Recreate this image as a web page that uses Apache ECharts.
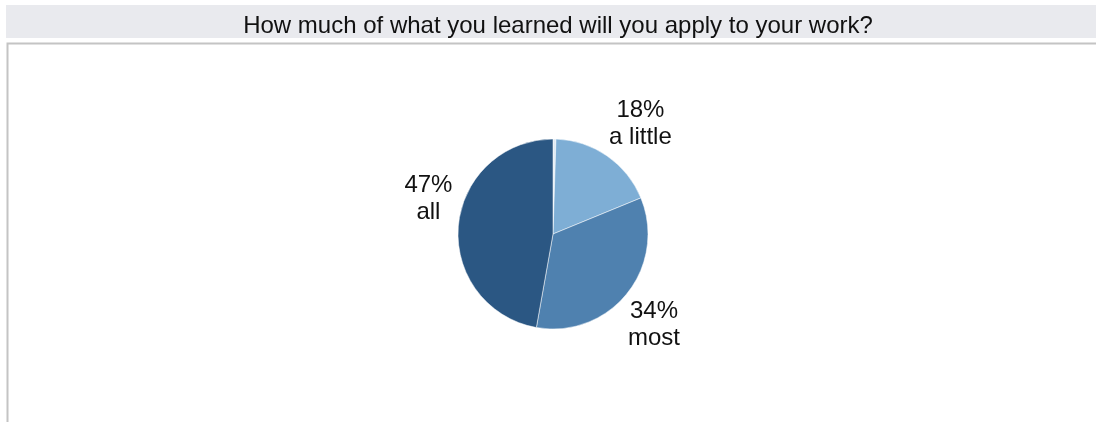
<!DOCTYPE html>
<html>
<head>
<meta charset="utf-8">
<script src="https://cdn.jsdelivr.net/npm/echarts@6/dist/echarts.min.js"></script>
<style>
  html, body { margin: 0; padding: 0; background: #fff; }
  #chart { width: 1096px; height: 422px; }
</style>
</head>
<body>
<div id="chart"></div>
<script>
// answers, in the order they sit on the pie (clockwise from 12 o'clock)
const answers = ["none", "a little", "most", "all"];
const shares = [0.5, 18.3, 34.0, 47.2];
const colors = ["#dfeaf4", "#7eaed5", "#4f81af", "#2b5783"];
// small nudges so the centred labels sit where the original put them
const labelNudge = [[0, 0], [18, -17], [8, 20], [-7, -25]];

const chart = echarts.init(document.getElementById("chart"));

const option = {
  animation: false,
  graphic: [
    {
      // grey title band
      type: "rect",
      shape: { x: 6, y: 5, width: 1090, height: 33 },
      style: { fill: "#e9eaee" },
      silent: true
    },
    {
      // frame round the plot
      type: "rect",
      shape: { x: 7.5, y: 43.5, width: 1100, height: 400 },
      style: { fill: "none", stroke: "#c4c4c4", lineWidth: 2 },
      silent: true
    }
  ],
  title: {
    text: "How much of what you learned will you apply to your work?",
    left: 553,
    top: 9,
    textAlign: "center",
    textStyle: {
      fontFamily: "Liberation Sans",
      fontWeight: "normal",
      fontSize: 24,
      color: "#111"
    }
  },
  series: [
    {
      type: "pie",
      center: [553, 234],
      radius: 95,
      startAngle: 90,
      clockwise: true,
      avoidLabelOverlap: false,
      itemStyle: { borderColor: "#fff", borderWidth: 0.5 },
      label: {
        show: true,
        position: "outside",
        fontFamily: "Liberation Sans",
        fontSize: 24,
        lineHeight: 27,
        color: "#111",
        formatter: function (p) {
          return Math.round(p.percent) + "%\n" + p.name;
        }
      },
      labelLine: { show: false, length: 18, length2: 0 },
      labelLayout: function (p) {
        const n = labelNudge[p.dataIndex];
        return { align: "center", dx: n[0], dy: n[1] };
      },
      emphasis: { disabled: true },
      data: answers.map(function (name, i) {
        return {
          name: name,
          value: shares[i],
          itemStyle: { color: colors[i] },
          label: { show: name !== "none" }
        };
      })
    }
  ]
};

chart.setOption(option);
</script>
</body>
</html>
